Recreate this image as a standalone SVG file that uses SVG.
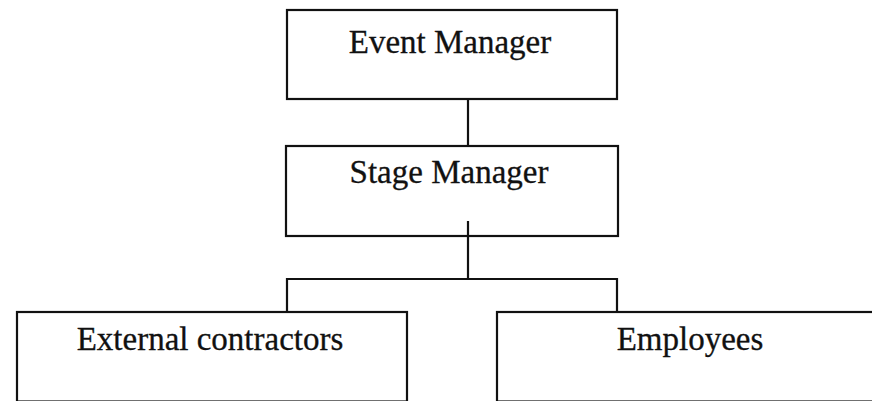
<svg xmlns="http://www.w3.org/2000/svg" width="872" height="401" viewBox="0 0 872 401">
<style>
.box{fill:#fff;stroke:#111;stroke-width:2.2}
.lbl{font-family:"Liberation Serif","Times New Roman",serif;font-size:33px;fill:#111;text-anchor:middle;stroke:#111;stroke-width:0.3}
.con{fill:none;stroke:#111;stroke-width:2.2}
</style>
<rect width="872" height="401" fill="#fff"/>
<g id="event-manager">
<rect class="box" x="287" y="10" width="330" height="89"/>
<text class="lbl" x="450" y="53">Event Manager</text>
</g>
<g id="stage-manager">
<rect class="box" x="286" y="146" width="332" height="90"/>
<text class="lbl" x="449" y="183">Stage Manager</text>
</g>
<g id="external-contractors">
<rect class="box" x="17" y="312" width="390" height="89.5"/>
<text class="lbl" x="210" y="350">External contractors</text>
</g>
<g id="employees">
<rect class="box" x="497" y="312" width="390" height="89.5"/>
<text class="lbl" x="690" y="350">Employees</text>
</g>
<g id="connectors">
<line class="con" x1="468" y1="99" x2="468" y2="146"/>
<polyline class="con" points="468,221 468,279"/>
<polyline class="con" points="287,312 287,279 617,279 617,312"/>
</g>
</svg>
